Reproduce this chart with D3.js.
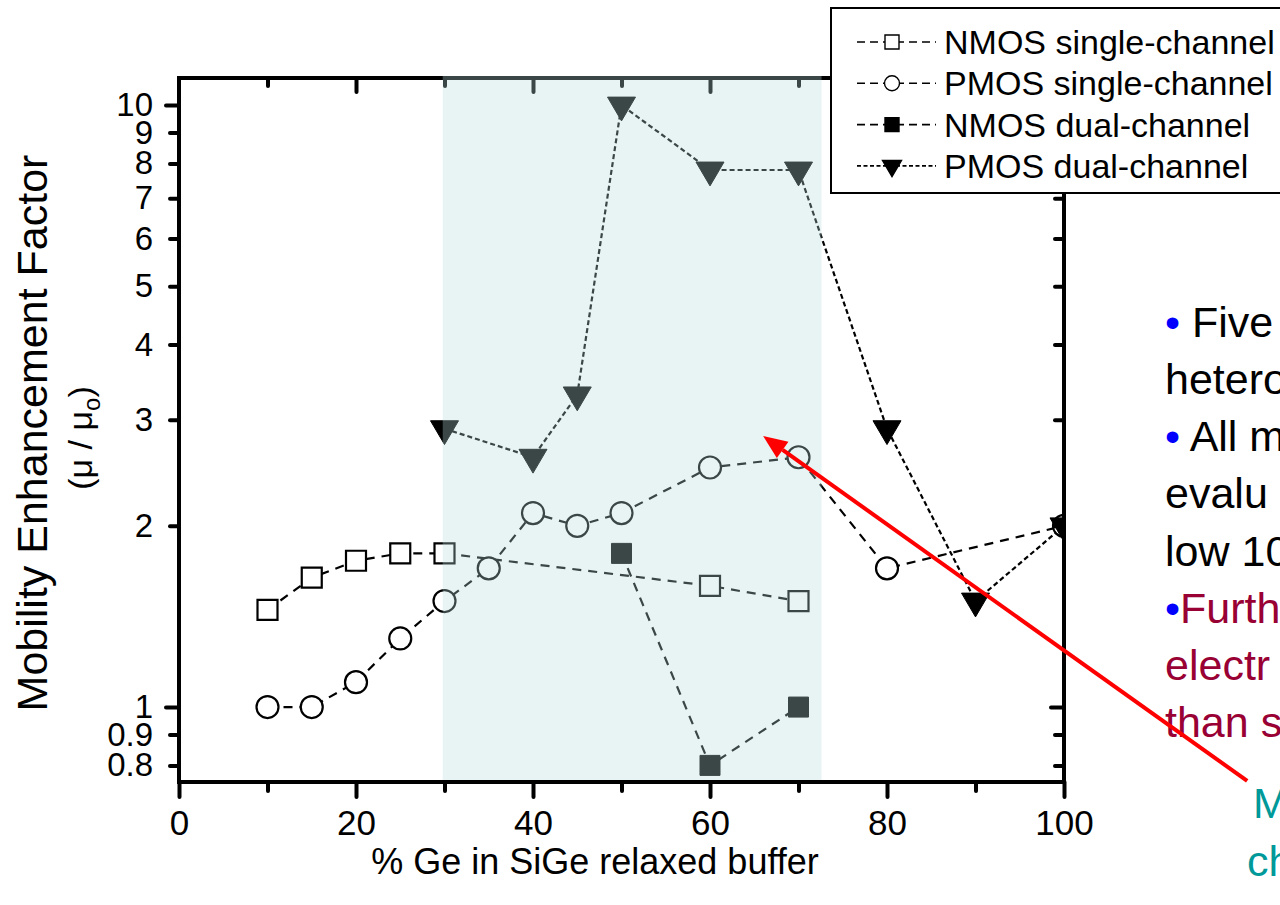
<!DOCTYPE html>
<html><head><meta charset="utf-8">
<script src="https://cdn.jsdelivr.net/npm/d3@7"></script>
<style>
body{margin:0;background:#fff;overflow:hidden}
svg{display:block;font-family:Arial,"Liberation Sans",sans-serif}
</style>
</head><body>
<svg id="c" width="1280" height="905"></svg>
<script>
// ---- data ----
const geNmosSingle = [10, 15, 20, 25, 30, 60, 70];
const nmosSingle   = [1.45, 1.64, 1.75, 1.80, 1.80, 1.59, 1.50];
const gePmosSingle = [10, 15, 20, 25, 30, 35, 40, 45, 50, 60, 70, 80, 100];
const pmosSingle   = [1.0, 1.0, 1.10, 1.30, 1.50, 1.70, 2.10, 2.0, 2.10, 2.50, 2.60, 1.70, 2.0];
const geNmosDual   = [50, 60, 70];
const nmosDual     = [1.80, 0.80, 1.0];
const gePmosDual   = [30, 40, 45, 50, 60, 70, 80, 90, 100];
const pmosDual     = [2.9, 2.6, 3.3, 10.0, 7.8, 7.8, 2.9, 1.5, 2.0];
const seriesNames  = ["NMOS single-channel", "PMOS single-channel", "NMOS dual-channel", "PMOS dual-channel"];
const xMajorTicks  = [0, 20, 40, 60, 80, 100];
const xMinorTicks  = [10, 30, 50, 70, 90];
const yMajorTicks  = [1, 10];
const yMinorTicks  = [0.8, 0.9, 2, 3, 4, 5, 6, 7, 8, 9];
const yLabelTicks  = [0.8, 0.9, 1, 2, 3, 4, 5, 6, 7, 8, 9, 10];
const shadedGe     = [29.8, 72.6];
const arrowFrom    = [120.7, 0.754];
const arrowTo      = [66.0, 2.82];
const xTitle = "% Ge in SiGe relaxed buffer";
const yTitle = "Mobility Enhancement Factor";

// ---- layout ----
const L = 179, R = 1064, T = 78, B = 782;
const svg = d3.select("#c");
const x = d3.scaleLinear().domain([0, 100]).range([L, R]);
const y = d3.scaleLog().domain([0.7508, 11.09]).range([B, T]);

svg.append("defs").append("clipPath").attr("id", "clip")
  .append("rect").attr("x", L).attr("y", T).attr("width", R - L).attr("height", B - T);

const plot = svg.append("g").attr("clip-path", "url(#clip)");

const series = [
  {xs: geNmosSingle, ys: nmosSingle, dash: "9,7", sym: "square", fill: "#fff"},
  {xs: gePmosSingle, ys: pmosSingle, dash: "9,7", sym: "circle", fill: "#fff"},
  {xs: geNmosDual,   ys: nmosDual,   dash: "9,7", sym: "square", fill: "#000"},
  {xs: gePmosDual,   ys: pmosDual,   dash: "5,3", sym: "tri",    fill: "#000"}
];

function symPath(sym, s) {
  if (sym === "square") return `M${-s/2},${-s/2}h${s}v${s}h${-s}Z`;
  if (sym === "circle") { const r = s/2; return `M${r},0A${r},${r} 0 1,1 ${-r},0A${r},${r} 0 1,1 ${r},0Z`; }
  const h = s * 0.85, w = s;
  return `M${-w/2},${-h/3}L${w/2},${-h/3}L0,${2*h/3}Z`;
}
const symSize = {square: 20, circle: 22, tri: 28};

const line = d3.line().x(d => x(d[0])).y(d => y(d[1]));
series.forEach(s => {
  const pts = s.xs.map((v, i) => [v, s.ys[i]]);
  plot.append("path").attr("d", line(pts)).attr("fill", "none")
    .attr("stroke", "#000").attr("stroke-width", 2.2).attr("stroke-dasharray", s.dash);
});
series.forEach(s => {
  const pts = s.xs.map((v, i) => [v, s.ys[i]]);
  plot.selectAll(null).data(pts).enter().append("path")
    .attr("transform", d => `translate(${x(d[0])},${y(d[1])})`)
    .attr("d", symPath(s.sym, symSize[s.sym]))
    .attr("fill", s.fill).attr("stroke", "#000")
    .attr("stroke-width", s.fill === "#fff" ? 2.2 : 1);
});

// ---- axes ----
function styleAxis(g, fs) {
  g.select(".domain").remove();
  g.selectAll("line").attr("stroke", "#000").attr("stroke-width", 4).attr("stroke-linecap", "round");
  g.selectAll("text").attr("font-size", fs).attr("fill", "#000").attr("font-family", "Arial, 'Liberation Sans', sans-serif");
}
svg.append("g").attr("transform", `translate(0,${B})`)
  .call(d3.axisBottom(x).tickValues(xMajorTicks).tickSize(15).tickPadding(13).tickFormat(d3.format("d")))
  .call(g => styleAxis(g, 35));
svg.append("g").attr("transform", `translate(0,${B})`)
  .call(d3.axisBottom(x).tickValues(xMinorTicks).tickSize(9).tickFormat(""))
  .call(g => styleAxis(g, 0));
svg.append("g").attr("transform", `translate(0,${T})`)
  .call(d3.axisTop(x).tickValues(xMajorTicks.slice(1, -1)).tickSize(-14).tickFormat(""))
  .call(g => styleAxis(g, 0));
svg.append("g").attr("transform", `translate(0,${T})`)
  .call(d3.axisTop(x).tickValues(xMinorTicks).tickSize(-8).tickFormat(""))
  .call(g => styleAxis(g, 0));
svg.append("g").attr("transform", `translate(${L},0)`)
  .call(d3.axisLeft(y).tickValues(yMajorTicks).tickSize(13).tickFormat(""))
  .call(g => styleAxis(g, 0));
svg.append("g").attr("transform", `translate(${L},0)`)
  .call(d3.axisLeft(y).tickValues(yMinorTicks).tickSize(9).tickFormat(""))
  .call(g => styleAxis(g, 0));
svg.append("g").attr("transform", `translate(${L},0)`)
  .call(d3.axisLeft(y).tickValues(yLabelTicks).tickSize(0).tickPadding(26).tickFormat(d => String(d)))
  .call(g => { styleAxis(g, 33); g.selectAll("line").remove(); });
svg.append("g").attr("transform", `translate(${R},0)`)
  .call(d3.axisRight(y).tickValues(yMajorTicks).tickSize(-13).tickFormat(""))
  .call(g => styleAxis(g, 0));
svg.append("g").attr("transform", `translate(${R},0)`)
  .call(d3.axisRight(y).tickValues(yMinorTicks).tickSize(-9).tickFormat(""))
  .call(g => styleAxis(g, 0));

// frame
svg.append("rect").attr("x", L).attr("y", T).attr("width", R - L).attr("height", B - T)
  .attr("fill", "none").attr("stroke", "#000").attr("stroke-width", 4);

// shaded overlay
svg.append("rect").attr("x", x(shadedGe[0])).attr("y", T - 2)
  .attr("width", x(shadedGe[1]) - x(shadedGe[0])).attr("height", B - T)
  .attr("fill", "rgb(182,219,219)").attr("fill-opacity", 0.32);

// axis titles
svg.append("text").attr("x", 595).attr("y", 874)
  .attr("text-anchor", "middle").attr("font-size", 36).text(xTitle);
svg.append("text").attr("transform", "translate(47,433) rotate(-90)")
  .attr("text-anchor", "middle").attr("font-size", 43).text(yTitle);
const sub = svg.append("text").attr("transform", "translate(92,438) rotate(-90)")
  .attr("text-anchor", "middle").attr("font-size", 34);
sub.append("tspan").text("(\u03bc / \u03bc");
sub.append("tspan").attr("font-size", 24).attr("dy", 8).text("o");
sub.append("tspan").attr("dy", -8).text(")");

// legend
const lg = svg.append("g");
lg.append("rect").attr("x", 831).attr("y", 8).attr("width", 480).attr("height", 185)
  .attr("fill", "#fff").attr("stroke", "#000").attr("stroke-width", 2);
const legDash = ["8,5", "8,5", "8,5", "4,2.5"];
const legSym = [["square", "#fff", 14], ["circle", "#fff", 15], ["square", "#000", 14], ["tri", "#000", 19]];
seriesNames.forEach((name, i) => {
  const cy = 42 + i * 41.3;
  lg.append("line").attr("x1", 857).attr("x2", 936).attr("y1", cy).attr("y2", cy)
    .attr("stroke", "#000").attr("stroke-width", 1.6).attr("stroke-dasharray", legDash[i]);
  lg.append("path").attr("transform", `translate(892,${cy})`)
    .attr("d", symPath(legSym[i][0], legSym[i][2])).attr("fill", legSym[i][1])
    .attr("stroke", "#000").attr("stroke-width", 1.4);
  lg.append("text").attr("x", 944).attr("y", cy + 12).attr("font-size", 34).text(name);
});

// notes on the right (cut off by the slide edge, as in the reference)
const notes = [
  {y: 337, parts: [["\u2022 ", "#0000ff"], ["Five", "#000"]]},
  {y: 394, parts: [["hetero", "#000"]]},
  {y: 451, parts: [["\u2022 ", "#0000ff"], ["All m", "#000"]]},
  {y: 508, parts: [["evalu", "#000"]]},
  {y: 566, parts: [["low 10", "#000"]]},
  {y: 623, parts: [["\u2022", "#0000ff"], ["Furth", "#990033"]]},
  {y: 680, parts: [["electr", "#990033"]]},
  {y: 737, parts: [["than s", "#990033"]]},
  {y: 818, x: 1253, parts: [["M", "#009999"]]},
  {y: 876, x: 1247, parts: [["ch", "#009999"]]}
];
notes.forEach(n => {
  const t = svg.append("text").attr("x", n.x || 1165).attr("y", n.y).attr("font-size", 43);
  n.parts.forEach(p => t.append("tspan").attr("fill", p[1]).text(p[0]));
});

// red arrow
const ax0 = x(arrowFrom[0]), ay0 = y(arrowFrom[1]), ax1 = x(arrowTo[0]), ay1 = y(arrowTo[1]);
const ang = Math.atan2(ay1 - ay0, ax1 - ax0);
const hl = 24, hw = 10;
const bx = ax1 - hl * Math.cos(ang), by = ay1 - hl * Math.sin(ang);
svg.append("line").attr("x1", ax0).attr("y1", ay0).attr("x2", bx).attr("y2", by)
  .attr("stroke", "#ff0000").attr("stroke-width", 4);
svg.append("path").attr("d",
  `M${ax1},${ay1}L${bx + hw * Math.sin(ang)},${by - hw * Math.cos(ang)}L${bx - hw * Math.sin(ang)},${by + hw * Math.cos(ang)}Z`)
  .attr("fill", "#ff0000");
</script>
</body></html>
